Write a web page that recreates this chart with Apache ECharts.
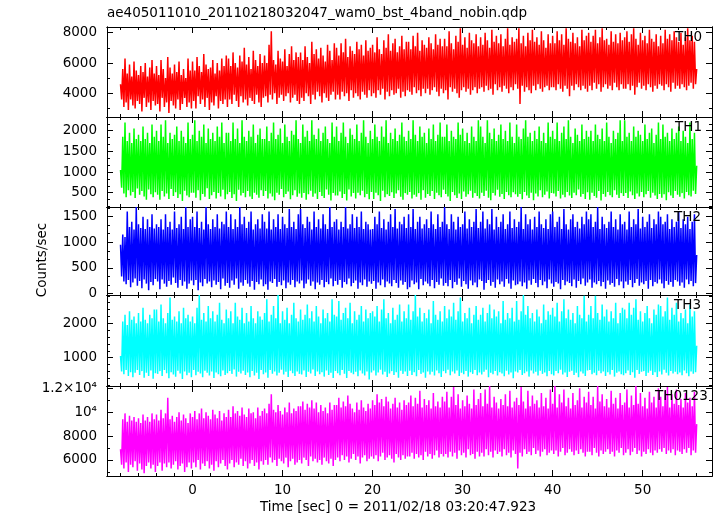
<!DOCTYPE html>
<html><head><meta charset="utf-8">
<style>html,body{margin:0;padding:0;background:#fff}#c{width:717px;height:516px}</style>
<script src="https://cdn.jsdelivr.net/npm/echarts@6/dist/echarts.min.js"></script>
</head><body><div id="c"></div>
<script>
const chartTitle = 'ae405011010_20110218032047_wam0_bst_4band_nobin.qdp';
const xAxisTitle = 'Time [sec] 0 = 2011/02/18 03:20:47.923';
const yAxisTitle = 'Counts/sec';
const bandNames = ['TH0', 'TH1', 'TH2', 'TH3', 'TH0123'];
const bandColors = ['#ff0000', '#00ff00', '#0000ff', '#00ffff', '#ff00ff'];

const timeSec = [
-8,-7.875,-7.75,-7.625,-7.5,-7.375,-7.25,-7.125,-7,-6.875,-6.75,-6.625,-6.5,-6.375,-6.25,-6.125,-6,-5.875,-5.75,-5.625,-5.5,-5.375,-5.25,-5.125,-5,-4.875,-4.75,-4.625,-4.5,-4.375,-4.25,-4.125,
-4,-3.875,-3.75,-3.625,-3.5,-3.375,-3.25,-3.125,-3,-2.875,-2.75,-2.625,-2.5,-2.375,-2.25,-2.125,-2,-1.875,-1.75,-1.625,-1.5,-1.375,-1.25,-1.125,-1,-0.875,-0.75,-0.625,-0.5,-0.375,-0.25,-0.125,
0,0.125,0.25,0.375,0.5,0.625,0.75,0.875,1,1.125,1.25,1.375,1.5,1.625,1.75,1.875,2,2.125,2.25,2.375,2.5,2.625,2.75,2.875,3,3.125,3.25,3.375,3.5,3.625,3.75,3.875,
4,4.125,4.25,4.375,4.5,4.625,4.75,4.875,5,5.125,5.25,5.375,5.5,5.625,5.75,5.875,6,6.125,6.25,6.375,6.5,6.625,6.75,6.875,7,7.125,7.25,7.375,7.5,7.625,7.75,7.875,
8,8.125,8.25,8.375,8.5,8.625,8.75,8.875,9,9.125,9.25,9.375,9.5,9.625,9.75,9.875,10,10.125,10.25,10.375,10.5,10.625,10.75,10.875,11,11.125,11.25,11.375,11.5,11.625,11.75,11.875,
12,12.125,12.25,12.375,12.5,12.625,12.75,12.875,13,13.125,13.25,13.375,13.5,13.625,13.75,13.875,14,14.125,14.25,14.375,14.5,14.625,14.75,14.875,15,15.125,15.25,15.375,15.5,15.625,15.75,15.875,
16,16.125,16.25,16.375,16.5,16.625,16.75,16.875,17,17.125,17.25,17.375,17.5,17.625,17.75,17.875,18,18.125,18.25,18.375,18.5,18.625,18.75,18.875,19,19.125,19.25,19.375,19.5,19.625,19.75,19.875,
20,20.125,20.25,20.375,20.5,20.625,20.75,20.875,21,21.125,21.25,21.375,21.5,21.625,21.75,21.875,22,22.125,22.25,22.375,22.5,22.625,22.75,22.875,23,23.125,23.25,23.375,23.5,23.625,23.75,23.875,
24,24.125,24.25,24.375,24.5,24.625,24.75,24.875,25,25.125,25.25,25.375,25.5,25.625,25.75,25.875,26,26.125,26.25,26.375,26.5,26.625,26.75,26.875,27,27.125,27.25,27.375,27.5,27.625,27.75,27.875,
28,28.125,28.25,28.375,28.5,28.625,28.75,28.875,29,29.125,29.25,29.375,29.5,29.625,29.75,29.875,30,30.125,30.25,30.375,30.5,30.625,30.75,30.875,31,31.125,31.25,31.375,31.5,31.625,31.75,31.875,
32,32.125,32.25,32.375,32.5,32.625,32.75,32.875,33,33.125,33.25,33.375,33.5,33.625,33.75,33.875,34,34.125,34.25,34.375,34.5,34.625,34.75,34.875,35,35.125,35.25,35.375,35.5,35.625,35.75,35.875,
36,36.125,36.25,36.375,36.5,36.625,36.75,36.875,37,37.125,37.25,37.375,37.5,37.625,37.75,37.875,38,38.125,38.25,38.375,38.5,38.625,38.75,38.875,39,39.125,39.25,39.375,39.5,39.625,39.75,39.875,
40,40.125,40.25,40.375,40.5,40.625,40.75,40.875,41,41.125,41.25,41.375,41.5,41.625,41.75,41.875,42,42.125,42.25,42.375,42.5,42.625,42.75,42.875,43,43.125,43.25,43.375,43.5,43.625,43.75,43.875,
44,44.125,44.25,44.375,44.5,44.625,44.75,44.875,45,45.125,45.25,45.375,45.5,45.625,45.75,45.875,46,46.125,46.25,46.375,46.5,46.625,46.75,46.875,47,47.125,47.25,47.375,47.5,47.625,47.75,47.875,
48,48.125,48.25,48.375,48.5,48.625,48.75,48.875,49,49.125,49.25,49.375,49.5,49.625,49.75,49.875,50,50.125,50.25,50.375,50.5,50.625,50.75,50.875,51,51.125,51.25,51.375,51.5,51.625,51.75,51.875,
52,52.125,52.25,52.375,52.5,52.625,52.75,52.875,53,53.125,53.25,53.375,53.5,53.625,53.75,53.875,54,54.125,54.25,54.375,54.5,54.625,54.75,54.875,55,55.125,55.25,55.375,55.5,55.625,55.75,55.875,
56];

const th0 = [
4600,3600,5600,3100,6300,3400,5300,2900,5900,3600,5100,3200,6100,3000,5500,3500,5200,3300,5800,2800,5400,3700,6000,3100,5100,3400,5700,2900,6200,3500,5300,3200,
5800,3300,5200,2800,6200,3700,5600,3100,5000,3400,6400,2700,5700,3500,5300,3200,5900,3000,5400,3600,6100,2900,5200,3300,5600,3700,5000,3100,6300,3400,5500,3000,
6100,3500,5500,3000,6400,3800,5800,3300,5400,3600,6600,3100,5900,3700,5600,2900,5700,3400,6200,3200,5300,3800,6000,3000,5500,3500,6300,3300,5800,3600,6500,3100,
6300,3600,5800,3300,6700,3900,6000,3500,5700,3100,6500,3800,6100,3400,7000,3600,5900,3200,6400,3700,5600,3500,6800,3300,6200,3900,5800,3400,6600,3100,6000,3700,
6500,3800,6000,3400,7200,3900,8100,3600,6200,4000,5900,3300,6800,3700,6300,3900,6100,3500,6900,3800,5800,4000,6600,3400,7100,3700,6200,3900,6700,3500,6400,3300,
6700,3700,6200,3500,7100,4000,6400,3800,6000,3300,7400,3900,6600,3600,6900,4100,6300,3800,7000,3400,6500,4000,6100,3700,7200,3500,6800,3900,6200,4100,7300,3600,
7000,3900,6500,3600,7300,4100,6700,3800,7600,4000,6400,3500,7100,4200,6800,3700,6600,4000,7400,3800,6900,3600,7200,4100,6500,3900,7500,3700,6800,4200,7000,3800,
7200,4000,6700,3700,7700,4200,6900,3900,6600,4300,7500,3600,7000,4100,7900,3800,6800,4200,7300,3900,7600,4000,6700,4300,7100,3700,7800,4100,6900,3800,7400,4200,
7400,4100,6900,3900,7800,4400,7100,4000,8000,4200,6800,3800,7500,4300,7200,4000,7000,4300,7700,3900,7300,4200,6900,4400,7900,4100,7200,3800,7600,4300,7100,4000,
7600,4200,7100,3600,8100,4400,7300,4100,6900,4300,7800,4000,7400,3700,8300,4200,7200,4400,7700,4100,7000,4300,8000,3900,7500,4200,7300,4400,7900,4000,7100,4300,
7700,4400,7200,4100,8000,4500,7500,4200,7000,4300,8200,3900,7400,4600,7800,4200,7300,4400,7900,4100,7100,4500,7600,4300,8300,4000,7200,4400,7700,4200,7400,4600,
7600,4300,8300,3300,7300,4500,7800,4100,7100,4400,8000,4200,7500,4000,8200,4500,7400,4200,7700,4600,7200,4300,8100,4100,7500,4400,7000,4500,7900,4200,7300,4400,
7800,4400,7300,4200,8100,4600,7500,4300,7900,4100,7200,4500,8300,4300,7600,3800,7400,4500,8000,4200,7300,4600,7700,4400,7100,4200,8200,4500,7500,4300,7800,4100,
8000,4500,7400,4200,7800,4700,8200,4300,7300,4600,7700,4100,8300,4400,7500,4600,7600,4300,7200,4500,8100,4200,7400,4700,7900,4400,7300,4200,8000,4600,7500,4300,
7700,4300,8100,4600,7400,4200,7900,4500,8300,3900,7600,4400,7200,4700,8000,4300,7500,4500,7800,4200,7300,4600,8200,4400,7600,4100,7400,4500,7900,4300,7100,4600,
7800,4500,7300,4200,8200,4600,7600,4400,7900,4100,7500,4700,8100,4300,7700,4500,7400,4300,8000,4600,7200,4400,7700,4200,8300,4500,7500,4700,7800,4300,7400,4600,
5600];

const th1 = [
1050,620,1850,480,2200,390,1750,560,1950,430,1700,520,2050,370,1800,600,1900,450,1750,540,2100,410,1800,330,1950,580,1700,460,2150,390,1850,510,
2000,450,1750,330,2150,540,1850,410,2250,480,1700,350,1950,590,1800,420,1900,510,2100,370,1750,460,2000,300,1850,550,1700,430,2200,390,1800,500,
1900,500,2250,380,1750,560,2000,320,1850,470,2150,400,1700,610,2050,350,1800,440,1950,520,1750,360,2100,490,1850,410,2200,570,1700,340,1950,460,
1950,520,1750,370,2200,460,1800,300,2050,570,1700,430,2250,490,1850,390,1750,540,2000,410,1850,350,2150,500,1700,450,1900,380,2050,560,1800,420,
1800,540,2100,360,1750,480,1950,410,2200,320,1800,500,1900,450,2050,590,1700,390,2150,470,1850,530,1750,340,2000,440,1900,560,2250,400,1800,480,
1700,380,2150,490,1850,330,2000,460,1750,550,2250,400,1900,480,1800,350,2050,520,1750,420,1950,370,2100,580,1800,450,1700,310,2200,490,1850,430,
2100,430,1750,530,1950,370,2200,470,1850,310,1700,580,2050,410,1900,490,1800,360,2150,500,1750,440,1950,550,2250,390,1850,470,1700,340,2000,520,
1800,350,2150,500,1850,440,1750,300,2100,550,1850,390,2250,460,1700,420,1950,510,1800,370,2050,480,1750,560,1900,400,2200,330,1850,490,1750,450,
2000,520,1800,360,2250,450,1900,400,1750,490,2100,330,1850,560,1950,380,1700,470,2050,420,1800,540,2150,350,1750,500,1900,440,2200,390,1850,570,
1850,470,2150,410,1750,300,2000,520,1850,440,1800,370,2200,480,1900,350,2050,530,1750,400,1950,460,1700,550,2100,380,1850,490,1750,420,2250,360,
2100,500,1850,420,1700,550,2250,380,1950,320,1800,490,2050,430,1750,570,1900,400,2150,470,1800,350,2000,520,1750,440,2200,390,1850,510,1700,460,
2150,400,1850,470,1800,340,2050,520,2250,430,1850,370,1950,500,1750,320,2000,480,1800,410,2100,560,1750,390,1950,450,1700,530,2200,360,1850,490,
2000,480,1800,410,2200,540,1750,360,1950,450,2100,390,1800,520,2250,430,1850,370,1700,500,2050,440,1900,580,1750,400,2150,470,1800,350,2000,510,
1850,330,2000,500,1750,420,2150,380,1900,540,1800,310,2050,470,1750,400,2200,520,1850,440,1700,390,2000,560,1800,450,1950,370,2250,490,1750,420,
2250,490,1850,370,1950,530,1750,440,2100,350,1850,480,2000,410,1900,520,1750,390,2150,460,1800,540,1950,380,2050,500,1700,430,1900,350,2200,470,
1800,380,2150,460,1850,320,1950,510,1750,430,2050,370,1800,540,1950,450,2100,400,1750,490,2000,360,1850,520,1700,440,2200,410,1800,550,1950,470,
1150];

const th2 = [
950,330,1150,230,1100,180,1600,260,1300,120,1400,210,1250,290,1690,150,1350,240,1280,100,1500,270,1260,190,1450,60,1300,220,1550,160,1270,280,
1350,230,1300,80,1450,270,1250,190,1550,130,1300,240,1400,170,1250,310,1600,200,1280,110,1350,260,1500,150,1260,230,1690,90,1300,190,1450,250,
1500,160,1300,260,1600,60,1280,210,1400,140,1250,280,1690,190,1350,230,1260,120,1450,250,1300,170,1550,220,1270,80,1400,290,1350,150,1600,200,
1300,110,1550,250,1260,170,1450,290,1300,90,1690,210,1350,150,1500,260,1280,190,1400,130,1600,240,1250,70,1350,220,1450,180,1270,270,1550,140,
1400,180,1270,70,1600,230,1250,200,1450,280,1300,130,1550,220,1260,160,1500,250,1350,100,1280,210,1650,170,1300,260,1400,120,1260,230,1550,190,
1650,250,1350,100,1280,190,1500,270,1400,150,1250,230,1600,80,1300,210,1450,170,1270,260,1550,120,1350,220,1260,180,1690,290,1300,140,1400,240,
1450,170,1250,260,1400,110,1300,220,1690,180,1270,290,1350,140,1550,200,1280,250,1500,90,1300,210,1600,160,1260,270,1400,130,1350,230,1250,190,
1260,240,1500,90,1350,210,1600,160,1280,270,1450,120,1250,230,1400,190,1550,140,1300,260,1650,200,1270,110,1400,250,1350,170,1500,220,1280,80,
1550,120,1300,250,1650,180,1260,210,1400,80,1500,280,1270,160,1350,230,1450,190,1280,140,1600,260,1350,100,1260,220,1550,170,1300,290,1400,150,
1690,200,1350,140,1260,260,1550,100,1400,220,1250,170,1500,290,1300,130,1350,240,1600,180,1270,90,1450,250,1300,160,1400,210,1650,120,1280,270,
1400,240,1600,70,1270,200,1450,260,1350,150,1650,220,1250,110,1500,270,1300,180,1400,230,1550,130,1260,280,1350,190,1600,90,1280,250,1450,160,
1300,180,1400,230,1690,140,1260,210,1550,90,1350,250,1450,170,1250,280,1500,200,1300,120,1600,260,1350,160,1280,230,1450,100,1260,270,1550,190,
1600,130,1300,220,1400,190,1500,80,1260,260,1650,160,1350,230,1250,200,1450,140,1550,270,1300,110,1400,240,1270,180,1500,290,1350,150,1600,210,
1450,270,1550,110,1300,210,1400,180,1690,240,1260,140,1500,220,1350,90,1280,250,1400,170,1600,200,1300,130,1450,280,1250,160,1550,230,1350,100,
1400,230,1250,170,1600,260,1300,120,1450,200,1350,280,1650,150,1270,210,1500,180,1300,240,1400,90,1550,260,1280,140,1450,220,1350,190,1600,270,
1500,190,1350,100,1400,240,1550,170,1260,220,1450,130,1300,260,1400,230,1600,150,1280,210,1450,110,1350,270,1500,180,1260,240,1400,140,1550,200,
750];

const th3 = [
1050,600,2050,520,2250,640,1950,470,2350,580,2100,430,2200,560,2000,640,2300,500,2050,610,2450,420,2100,560,2000,470,2250,630,2150,390,2400,550,
2400,530,2050,610,2550,470,2150,640,2000,550,2300,400,2750,580,2100,510,2200,450,2050,620,2350,540,2000,380,2450,600,2150,490,2250,560,2050,430,
2200,640,2000,490,2450,590,2820,540,2100,430,2300,620,2050,560,2500,480,2150,600,2350,410,2050,570,2250,520,2600,460,2100,630,2000,500,2400,550,
2150,610,2350,530,2000,660,2600,450,2200,590,2100,540,2450,620,2000,500,2300,570,2050,430,2500,610,2150,480,2000,560,2350,380,2200,640,2100,520,
2300,570,2700,420,2050,640,2250,530,2500,600,2150,480,2820,560,2000,650,2350,510,2100,590,2450,440,2000,620,2250,550,2600,470,2150,600,2050,530,
2400,510,2100,630,2250,440,2550,590,2150,540,2350,660,2050,470,2500,600,2200,520,2000,580,2400,450,2150,630,2300,500,2050,560,2700,410,2250,610,
2200,550,2650,490,2100,640,2300,530,2450,410,2150,610,2600,560,2000,520,2350,590,2100,460,2250,630,2500,540,2050,480,2400,600,2150,370,2300,570,
2350,630,2200,480,2500,570,2050,650,2400,510,2700,590,2150,440,2300,540,2000,610,2450,500,2100,580,2250,420,2550,620,2050,530,2350,600,2150,470,
2550,620,2100,500,2350,580,2820,460,2200,640,2450,530,2050,570,2300,420,2150,600,2400,510,2000,590,2650,480,2250,630,2100,550,2350,440,2050,610,
2500,550,2150,650,2400,490,2200,600,2600,540,2100,630,2350,470,2750,560,2050,520,2300,610,2150,450,2450,580,2000,530,2250,640,2500,490,2100,570,
2250,510,2450,590,2050,650,2300,430,2550,560,2150,520,2400,610,2200,480,2350,580,2000,540,2650,460,2100,620,2300,510,2150,570,2450,400,2050,600,
2650,570,2100,640,2350,500,2820,550,2250,600,2500,450,2150,630,2300,540,2050,590,2400,480,2200,620,2000,530,2550,570,2100,460,2350,610,2250,520,
2450,480,2200,610,2600,550,2050,650,2350,510,2700,570,2150,440,2400,590,2100,620,2300,500,2000,560,2500,430,2250,600,2150,540,2800,470,2050,630,
2250,640,2500,520,2150,560,2800,490,2300,620,2100,550,2550,600,2200,470,2400,580,2050,510,2350,640,2150,450,2600,560,2000,600,2300,520,2450,490,
2400,550,2150,630,2600,500,2250,580,2450,420,2700,640,2100,530,2350,590,2050,610,2300,470,2500,560,2150,620,2000,500,2400,580,2250,440,2550,600,
2500,510,2200,650,2350,560,2750,480,2100,610,2450,540,2250,590,2600,520,2050,570,2300,490,2150,630,2400,550,2000,460,2550,600,2200,530,2350,580,
1350];

const th0123 = [
6900,5600,9400,5300,9900,5800,9200,5000,9700,5600,9300,5400,9600,5900,9200,5100,9500,5700,9100,5200,9800,4900,9300,5500,9600,5800,9200,5300,9900,5600,9400,5000,
9800,5500,9300,5800,10200,5100,9500,5700,9900,5400,11200,5800,9400,5300,9700,5600,9200,5900,9600,5200,10000,5500,9300,5700,9800,5000,9500,5400,9100,5800,9900,5300,
9600,5800,10100,5400,9400,6000,9900,5200,10300,5700,9500,5500,10000,5900,9700,5300,9400,5600,10200,5100,9800,5900,9500,5400,10100,5700,9300,6000,9900,5500,9600,5200,
10200,5700,9600,6000,10500,5400,9900,5800,10100,5600,9700,6100,10400,5500,9800,5900,9600,5300,10300,5700,9900,6000,10000,5500,9500,5800,10400,5200,9700,5900,10100,5600,
10300,6000,9900,5600,10700,6200,11500,5800,10200,6000,10000,5500,10600,6100,10100,5900,9800,5700,10400,6200,10000,5400,10800,5900,9900,6100,10300,5600,10100,5800,10500,6000,
10500,5700,10900,6200,10200,6000,10700,5500,10400,6300,11000,5900,10300,6100,10800,5800,10000,6000,10600,5600,10100,6200,10400,5900,9900,5700,10800,6100,10200,5500,10600,6000,
10600,6200,11200,5900,10400,6400,10900,6000,10500,6300,11400,5800,10700,6100,10300,6500,10000,6000,10800,6300,10200,5700,11000,6200,10400,6400,10100,5900,10700,6100,10300,6300,
11000,6100,10600,6400,11500,5900,10800,6300,11100,6600,10500,6000,11300,6200,10900,6400,10300,6100,10700,5800,11200,6500,10400,6200,10800,6000,10200,6400,11000,6100,10600,6300,
10800,6300,11400,6600,10500,6100,11200,6500,10700,6200,11800,6400,10400,6000,11100,6700,10600,6300,11000,6500,10300,6100,11600,6400,10500,6800,10900,6200,10400,6500,11300,6300,
10900,6500,11700,6200,10400,6700,11300,6300,12100,6600,10600,6100,11500,6800,10300,6400,11000,6600,10500,6200,11400,6900,10700,6400,10300,6500,11900,6100,10600,6700,11100,6300,
11600,6600,10500,6300,11900,6900,10700,6400,12200,6700,10400,6200,11300,6800,10800,6500,10300,6700,11100,6300,10600,6900,11500,6400,10500,6600,11800,6200,10400,6800,10900,6500,
11200,5300,10600,6600,12100,6300,10900,6900,10300,6500,11800,6700,10500,6400,11400,7000,10700,6500,11000,6800,10400,6300,11600,6700,10500,6900,11200,6400,10300,6600,11900,6800,
10700,6500,12200,6800,10400,6300,11500,6700,10800,7000,11900,6400,10500,6600,11200,6900,10300,6700,11600,6400,10600,6800,11000,6500,12000,6900,10400,6600,11300,6300,10800,6700,
11700,6700,10600,6400,11300,7000,10300,6600,12200,6300,10900,6800,11500,6500,10500,6700,11100,6900,10400,6500,11800,6700,10700,6300,11200,6800,10300,6600,11600,7000,10600,6400,
10800,6600,11900,6900,10400,6400,11400,6700,10600,7000,12200,6500,10700,6800,11600,6300,10500,6700,11200,6500,10300,6900,11700,6600,10800,6400,11300,6800,10400,6600,12000,6900,
11300,6700,10500,7000,11800,6500,12100,6800,10400,6600,11500,6900,10700,6400,11900,6800,10600,6700,11100,6500,10400,6900,11600,6600,10800,7000,11200,6400,10500,6800,11700,6600,
9000];

const bandValues = [th0, th1, th2, th3, th0123];

const xMajorTicks = [0, 10, 20, 30, 40, 50];
const xMinorTicks = [-8,-6,-4,-2,2,4,6,8,12,14,16,18,22,24,26,28,32,34,36,38,42,44,46,48,52,54,56];
const yMajorTicks = [
  [4000, 6000, 8000],
  [500, 1000, 1500, 2000],
  [0, 500, 1000, 1500],
  [1000, 2000],
  [6000, 8000, 10000, 12000]
];
const yMinorTicks = [
  [3000, 5000, 7000],
  [166.67, 333.33, 666.67, 833.33, 1166.67, 1333.33, 1666.67, 1833.33, 2166.67],
  [166.67, 333.33, 666.67, 833.33, 1166.67, 1333.33, 1666.67],
  [200, 400, 600, 800, 1200, 1400, 1600, 1800, 2200, 2400, 2600, 2800],
  [5000, 7000, 9000, 11000]
];
const yRanges = [[2436, 8376], [154, 2331], [-33, 1690], [177, 2823], [4661, 12192]];
const xRange = [-9.5, 57.7];

const FONT = 'DejaVu Sans';
const FS = 13.5;
const panelTop = [27, 117, 207, 295, 386];
const panelHeight = [90, 90, 88, 91, 90];
const labelLeft = [675, 675, 674, 674, 655];

function yFmt(v) {
  if (v === 10000) return '10\u2074';
  if (v === 12000) return '1.2\u00d710\u2074';
  return String(v);
}

const grid = [], xAxis = [], yAxis = [], series = [], graphic = [];
const axisLine = { show: true, onZero: false, lineStyle: { color: '#000', width: 1 } };

for (let i = 0; i < 5; i++) {
  grid.push({ left: 107, right: 5, top: panelTop[i], height: panelHeight[i], containLabel: false });
  const xs = [
    { pos: 'bottom', ticks: xMajorTicks, len: 6, labels: i === 4 },
    { pos: 'bottom', ticks: xMinorTicks, len: 3, labels: false },
    { pos: 'top', ticks: xMajorTicks, len: 6, labels: false },
    { pos: 'top', ticks: xMinorTicks, len: 3, labels: false }
  ];
  xs.forEach(a => xAxis.push({
    gridIndex: i, type: 'value', position: a.pos, min: xRange[0], max: xRange[1],
    axisLine: axisLine,
    axisTick: { show: true, inside: true, length: a.len, customValues: a.ticks, lineStyle: { color: '#000', width: 1 } },
    axisLabel: { show: a.labels, customValues: a.ticks, margin: 7, color: '#000', fontFamily: FONT, fontSize: FS },
    splitLine: { show: false }
  }));
  const ys = [
    { pos: 'left', ticks: yMajorTicks[i], len: 6, labels: true },
    { pos: 'left', ticks: yMinorTicks[i], len: 3, labels: false },
    { pos: 'right', ticks: yMajorTicks[i], len: 6, labels: false },
    { pos: 'right', ticks: yMinorTicks[i], len: 3, labels: false }
  ];
  ys.forEach(a => yAxis.push({
    gridIndex: i, type: 'value', position: a.pos, min: yRanges[i][0], max: yRanges[i][1],
    axisLine: axisLine,
    axisTick: { show: true, inside: true, length: a.len, customValues: a.ticks, lineStyle: { color: '#000', width: 1 } },
    axisLabel: { show: a.labels, customValues: a.ticks, margin: 10, color: '#000', fontFamily: FONT, fontSize: FS, formatter: yFmt },
    splitLine: { show: false }
  }));
  series.push({
    type: 'line', xAxisIndex: 4 * i, yAxisIndex: 4 * i,
    data: timeSec.map((t, k) => [t, bandValues[i][k]]),
    showSymbol: false, symbol: 'none', silent: true, clip: true, sampling: null,
    lineStyle: { color: bandColors[i], width: 1.5 },
    itemStyle: { color: bandColors[i] },
    z: 2
  });
  graphic.push({
    type: 'text', left: labelLeft[i], top: panelTop[i] + 3, z: 100,
    style: { text: bandNames[i], fill: '#000', font: FS + 'px "' + FONT + '"' }
  });
}

graphic.push({ type: 'text', left: 107, top: 6, style: { text: chartTitle, fill: '#000', font: FS + 'px "' + FONT + '"' } });
graphic.push({ type: 'text', x: 398, y: 507, style: { text: xAxisTitle, fill: '#000', font: FS + 'px "' + FONT + '"', textAlign: 'center', textVerticalAlign: 'middle' } });
graphic.push({ type: 'text', x: 42, y: 260, rotation: Math.PI / 2, style: { text: yAxisTitle, fill: '#000', font: FS + 'px "' + FONT + '"', textAlign: 'center', textVerticalAlign: 'middle' } });

const chart = echarts.init(document.getElementById('c'), null, { renderer: 'canvas' });
chart.setOption({ animation: false, backgroundColor: '#fff', grid, xAxis, yAxis, series, graphic });
</script></body></html>
